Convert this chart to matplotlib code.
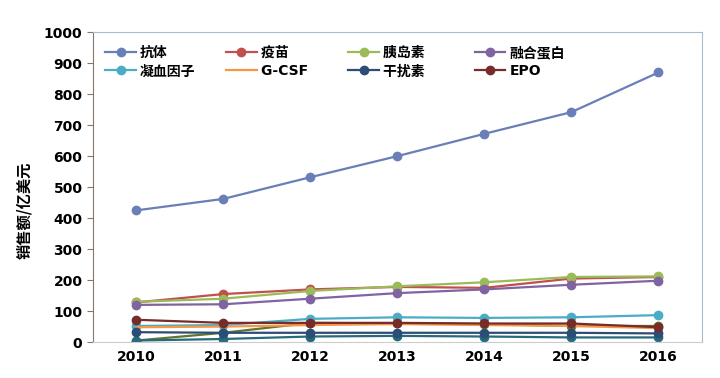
import matplotlib.pyplot as plt
import numpy as np

plt.rcParams['font.family'] = ['DejaVu Sans', 'Noto Sans CJK SC']
plt.rcParams['font.weight'] = 'bold'

years = ['2010', '2011', '2012', '2013', '2014', '2015', '2016']

antibody = [425, 462, 532, 600, 672, 742, 870]
vaccine = [128, 155, 170, 178, 175, 205, 210]
insulin = [130, 140, 165, 180, 193, 210, 212]
fusion = [120, 122, 140, 158, 170, 185, 198]
clotting = [52, 55, 75, 80, 78, 80, 87]
gcsf = [48, 50, 55, 58, 55, 52, 45]
interferon = [32, 30, 30, 30, 30, 30, 28]
epo = [72, 62, 62, 62, 60, 60, 48]
other1 = [5, 30, 62, 60, 58, 52, 52]
other2 = [5, 10, 18, 20, 18, 15, 15]

series = [
    ('抗体', antibody, '#6a7fb8', True),
    ('疫苗', vaccine, '#c0504d', True),
    ('胰岛素', insulin, '#9bbb59', True),
    ('融合蛋白', fusion, '#8064a2', True),
    ('凝血因子', clotting, '#4bacc6', True),
    ('G-CSF', gcsf, '#f79646', False),
    ('干扰素', interferon, '#2c4d75', True),
    ('EPO', epo, '#772c2a', True),
]
extras = [(other1, '#5f7530'), (other2, '#276a7c')]

x = np.arange(len(years))

fig = plt.figure(figsize=(7.2, 3.78), dpi=100)
ax = fig.add_axes([0.129, 0.095, 0.846, 0.82])

for vals, color in extras:
    ax.plot(x, vals, color=color, lw=1.6, marker='o', ms=6)

handles = []
for label, vals, color, mk in series:
    h, = ax.plot(x, vals, color=color, lw=1.6,
                 marker='o' if mk else None, ms=6, label=label)
    handles.append(h)

ax.set_xlim(-0.5, 6.5)
ax.set_ylim(0, 1000)
ax.set_yticks(np.arange(0, 1001, 100))
ax.set_xticks(x)
ax.set_xticklabels(years)
ax.tick_params(axis='both', labelsize=10)
ax.tick_params(axis='x', length=0, pad=6)
ax.tick_params(axis='y', length=4, color='#86786e')

ax.spines['left'].set_color('#86786e')
ax.spines['bottom'].set_color('#cccccc')
ax.spines['top'].set_color('#a9bccf')
ax.spines['right'].set_color('#a9bccf')

ax.set_ylabel('销售额/亿美元', fontsize=11, family=['Noto Sans CJK SC'],
              fontweight='bold')
ax.yaxis.set_label_coords(-0.1, 0.426)

# legend in row order: 4 columns, 2 rows; trailing spaces even out the column widths
order = [0, 4, 1, 5, 2, 6, 3, 7]
pad = {1: '  ', 5: '  ', 2: '    ', 6: '    '}
ax.legend([handles[i] for i in order], [series[i][0] + pad.get(i, '') for i in order],
          ncol=4, loc='upper left', bbox_to_anchor=(0.0, 0.995),
          frameon=False, handlelength=2.2, handletextpad=0.3,
          columnspacing=2.2, labelspacing=0.3,
          prop={'family': ['DejaVu Sans', 'Noto Sans CJK SC'], 'weight': 'bold', 'size': 10})

fig.savefig('out.png', dpi=100)
